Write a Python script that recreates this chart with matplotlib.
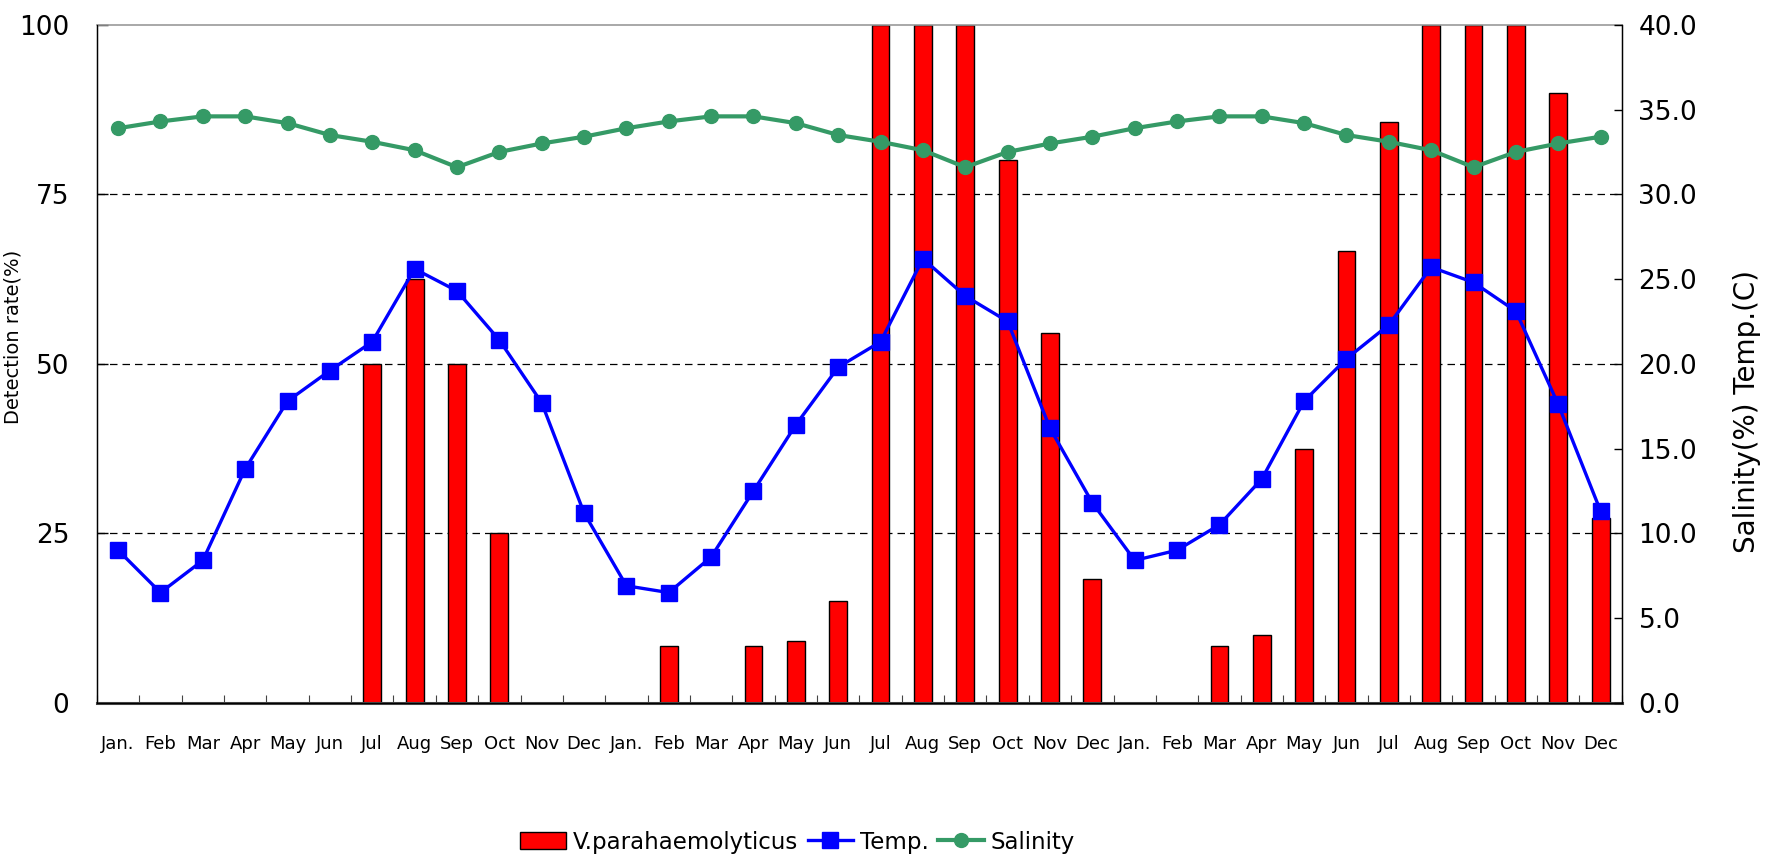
import numpy as np
import matplotlib
matplotlib.use("Agg")
import matplotlib.pyplot as plt

# ── data (three years, Jan..Dec) ──
MONTHS = ["Jan.", "Feb", "Mar", "Apr", "May", "Jun",
          "Jul", "Aug", "Sep", "Oct", "Nov", "Dec"] * 3

detection = [0, 0, 0, 0, 0, 0, 50, 62.5, 50, 25, 0, 0,
             0, 8.3, 0, 8.3, 9.1, 15, 100, 100, 100, 80, 54.5, 18.2,
             0, 0, 8.3, 10, 37.5, 66.7, 85.7, 100, 100, 100, 90, 27.3]

temp = [9.0, 6.5, 8.4, 13.8, 17.8, 19.6, 21.3, 25.6, 24.3, 21.4, 17.7, 11.2,
        6.9, 6.5, 8.6, 12.5, 16.4, 19.8, 21.3, 26.2, 24.0, 22.5, 16.2, 11.8,
        8.4, 9.0, 10.5, 13.2, 17.8, 20.3, 22.3, 25.7, 24.8, 23.1, 17.6, 11.3]

salinity = [33.9, 34.3, 34.6, 34.6, 34.2, 33.5, 33.1, 32.6, 31.6, 32.5, 33.0, 33.4,
            33.9, 34.3, 34.6, 34.6, 34.2, 33.5, 33.1, 32.6, 31.6, 32.5, 33.0, 33.4,
            33.9, 34.3, 34.6, 34.6, 34.2, 33.5, 33.1, 32.6, 31.6, 32.5, 33.0, 33.4]

LEFT_TICKS = [0, 25, 50, 75, 100]
RIGHT_TICKS = [0, 5, 10, 15, 20, 25, 30, 35, 40]

SALT_GREEN = "#359a66"

fig = plt.figure(figsize=(17.69, 8.57), dpi=100)
ax = fig.add_axes([0.0548, 0.180, 0.862, 0.791])
x = np.arange(len(MONTHS))

# dashed reference lines
for yv in LEFT_TICKS[1:-1]:
    ax.axhline(yv, color="black", lw=0.9, ls=(0, (6, 4)), zorder=0)

bars = ax.bar(x, detection, 0.42, color="#ff0000", edgecolor="black",
              linewidth=1.0, zorder=2, label="V.parahaemolyticus")

ax.set_xlim(-0.5, len(MONTHS) - 0.5)
ax.set_ylim(0, 100)
ax.set_yticks(LEFT_TICKS)
ax.set_yticklabels([str(v) for v in LEFT_TICKS], fontsize=19)
ax.set_xticks(x)
ax.set_xticklabels(MONTHS, fontsize=13)
ax.tick_params(axis="x", which="major", length=0, pad=23)
ax.set_xticks(np.arange(len(MONTHS) + 1) - 0.5, minor=True)
ax.tick_params(axis="x", which="minor", direction="in", length=6,
               width=0.8, color="#444444")
ax.tick_params(axis="y", direction="in", length=8, width=1.0, pad=20)
ax.set_ylabel("Detection rate(%)", fontsize=14)
ax.yaxis.set_label_coords(-0.049, 0.54)

ax.spines["top"].set_color("#999999")
ax.spines["top"].set_linewidth(1.2)
ax.spines["bottom"].set_color("#444444")
ax.spines["bottom"].set_linewidth(2.2)
ax.spines["left"].set_linewidth(1.0)

ax2 = ax.twinx()
l_temp, = ax2.plot(x, temp, color="#0000ff", lw=2.4, marker="s",
                   markersize=11, label="Temp.", zorder=3)
l_sal, = ax2.plot(x, salinity, color=SALT_GREEN, lw=3.0, marker="o",
                  markersize=10, label="Salinity", zorder=3)
ax2.set_ylim(0, 40)
ax2.set_yticks(RIGHT_TICKS)
ax2.set_yticklabels([f"{v:.1f}" for v in RIGHT_TICKS], fontsize=19)
ax2.tick_params(axis="y", direction="in", length=6, width=1.0, pad=12)
ax2.set_ylabel("Salinity(%) Temp.(C)", fontsize=20)
ax2.yaxis.set_label_coords(1.073, 0.43)
ax2.spines["top"].set_visible(False)
ax2.spines["right"].set_linewidth(1.0)

fig.legend(handles=[bars, l_temp, l_sal], loc="lower center",
           bbox_to_anchor=(0.451, -0.02), ncol=3, frameon=False,
           prop={"size": 16.5}, handlelength=2.0,
           handletextpad=0.3, columnspacing=0.4)

fig.savefig("out.png", dpi=100)
